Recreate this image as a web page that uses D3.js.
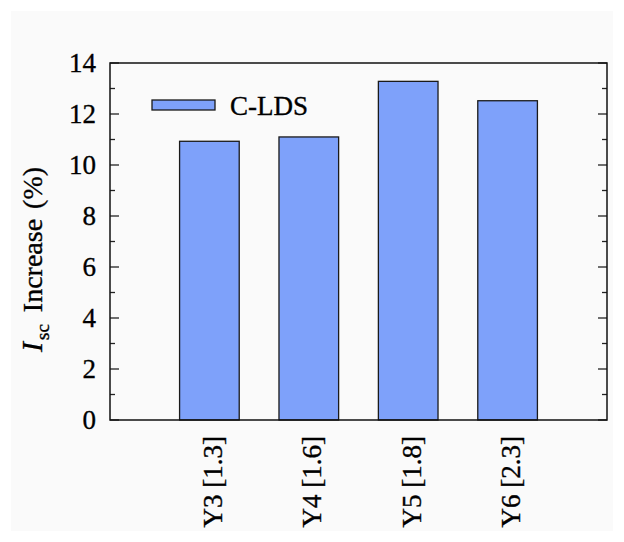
<!DOCTYPE html>
<html>
<head>
<meta charset="utf-8">
<script src="https://cdn.jsdelivr.net/npm/d3@7/dist/d3.min.js"></script>
<style>
  html, body { margin: 0; padding: 0; background: #ffffff; }
  svg { display: block; }
  text { font-family: "Liberation Serif", Tinos, "Times New Roman", Times, serif; fill: #000; stroke: #000; stroke-width: 0.35px; }
</style>
</head>
<body>
<svg id="chart" width="624" height="542"></svg>
<script>
// Short-circuit current gain for each sample
const categories = ["Y3 [1.3]", "Y4 [1.6]", "Y5 [1.8]", "Y6 [2.3]"];
const seriesName = "C-LDS";
const iscIncrease = [10.93, 11.1, 13.28, 12.52];
const yMajorTicks = [0, 2, 4, 6, 8, 10, 12, 14];
const yMinorTicks = [1, 3, 5, 7, 9, 11, 13];

const svg = d3.select("#chart");
const W = 624, H = 542;
const plot = { left: 110, right: 607, top: 63, bottom: 420 };

svg.append("rect")
  .attr("x", 11).attr("y", 11).attr("width", W - 22).attr("height", H - 22)
  .attr("fill", "#fafafa");

// Category positions sit at 1..4 on a 0..5 axis
const x = d3.scaleLinear().domain([0, categories.length + 1]).range([plot.left, plot.right]);
const y = d3.scaleLinear().domain([0, 14]).range([plot.bottom, plot.top]);
const barW = x(0.6) - x(0);

const fill = "#7ea1fa";

// Bars
svg.append("g").selectAll("rect")
  .data(iscIncrease)
  .join("rect")
  .attr("x", (d, i) => x(i + 1) - barW / 2)
  .attr("y", d => y(d))
  .attr("width", barW)
  .attr("height", d => y(0) - y(d))
  .attr("fill", fill)
  .attr("stroke", "#1a1a1a")
  .attr("stroke-width", 1.3);

// Inward ticks on left and right edges
const tickG = svg.append("g").attr("stroke", "#222").attr("stroke-width", 1.3);
function ticks(values, len) {
  tickG.selectAll(null).data(values).join("line")
    .attr("x1", plot.left).attr("x2", plot.left + len)
    .attr("y1", d => y(d)).attr("y2", d => y(d));
  tickG.selectAll(null).data(values).join("line")
    .attr("x1", plot.right).attr("x2", plot.right - len)
    .attr("y1", d => y(d)).attr("y2", d => y(d));
}
ticks(yMajorTicks, 9);
ticks(yMinorTicks, 5);

// Frame
svg.append("rect")
  .attr("x", plot.left).attr("y", plot.top)
  .attr("width", plot.right - plot.left).attr("height", plot.bottom - plot.top)
  .attr("fill", "none").attr("stroke", "#111").attr("stroke-width", 1.5);

// Y tick labels
svg.append("g").selectAll("text")
  .data(yMajorTicks)
  .join("text")
  .attr("x", plot.left - 14)
  .attr("y", d => y(d))
  .attr("dy", "0.34em")
  .attr("text-anchor", "end")
  .attr("font-size", 27)
  .text(d => d);

// Rotated category labels
svg.append("g").selectAll("text")
  .data(categories)
  .join("text")
  .attr("transform", (d, i) => `translate(${x(i + 1)},${plot.bottom + 16}) rotate(-90)`)
  .attr("dy", "0.46em")
  .attr("text-anchor", "end")
  .attr("font-size", 27)
  .text(d => d);

// Y axis title with italic I and subscript sc
const title = svg.append("text")
  .attr("transform", `translate(42,352) rotate(-90)`)
  .attr("text-anchor", "start")
  .attr("font-size", 28);
title.append("tspan").attr("font-style", "italic").attr("font-size", 30).text("I");
title.append("tspan").attr("font-size", 19).attr("dx", 2).attr("dy", 7).text("sc");
title.append("tspan").attr("dx", 12).attr("dy", -7).text("Increase");
title.append("tspan").attr("dx", 10).text("(%)");

// Legend
svg.append("rect")
  .attr("x", 152).attr("y", 100).attr("width", 63).attr("height", 10)
  .attr("fill", fill).attr("stroke", "#1a1a1a").attr("stroke-width", 1.3);
svg.append("text")
  .attr("x", 230).attr("y", 115)
  .attr("font-size", 27)
  .text(seriesName);
</script>
</body>
</html>
